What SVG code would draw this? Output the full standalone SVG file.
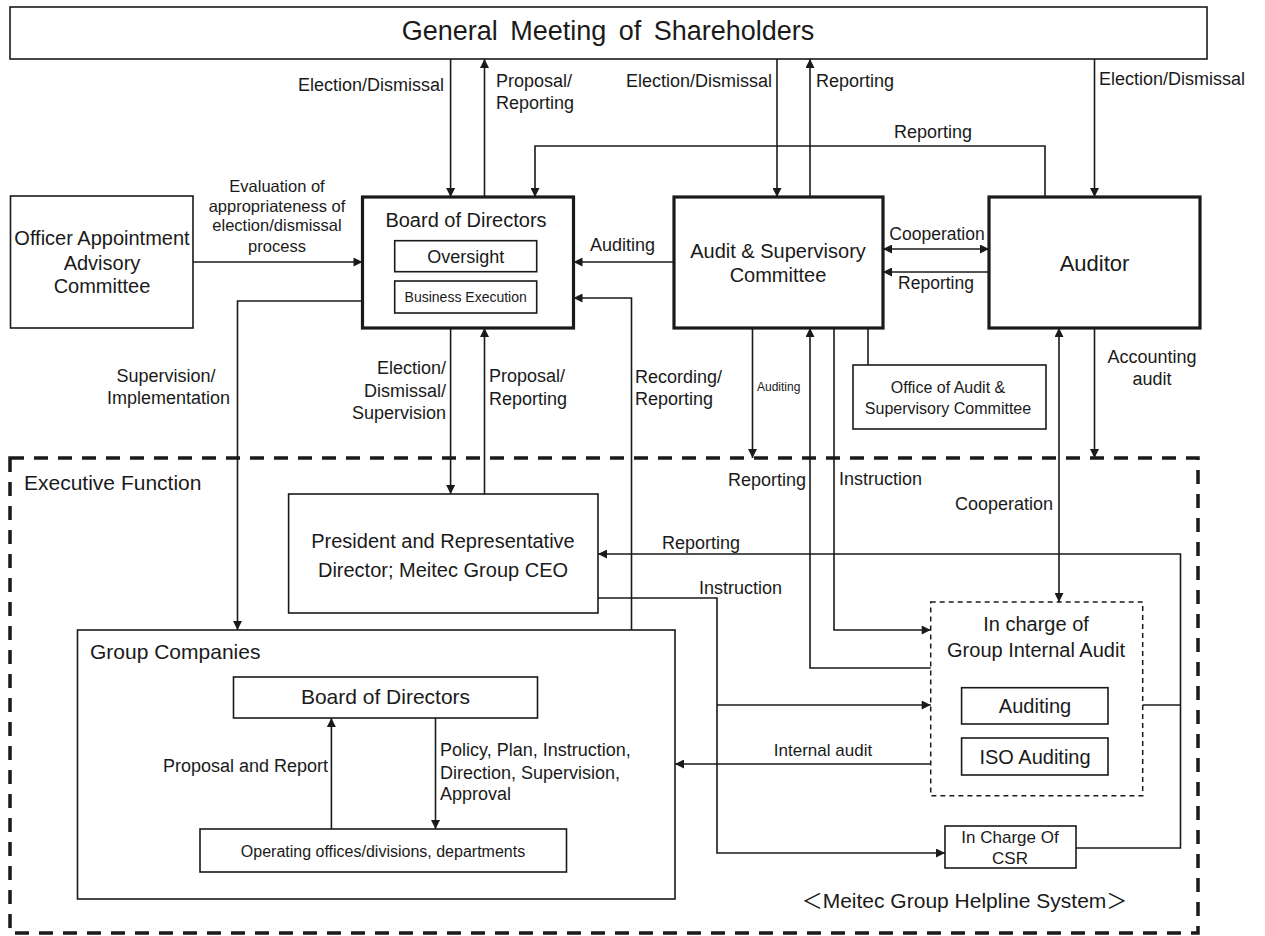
<svg xmlns="http://www.w3.org/2000/svg" width="1265" height="936" viewBox="0 0 1265 936">
<style>
text{font-family:"Liberation Sans",Arial,"Noto Sans CJK JP",sans-serif;fill:#1a1a1a}
.b{fill:#fff;stroke:#1a1a1a;stroke-width:1.6}
.tk{fill:#fff;stroke:#1a1a1a;stroke-width:3.2}
.dsh{fill:none;stroke:#1a1a1a;stroke-width:3.5;stroke-dasharray:14 10}
.dth{fill:none;stroke:#1a1a1a;stroke-width:1.5;stroke-dasharray:5 4}
.c path{fill:none;stroke:#1a1a1a;stroke-width:1.6}
.l{font-size:18px}
.m{text-anchor:middle}
.e{text-anchor:end}
</style>
<defs>
<marker id="ah" viewBox="0 0 10 10" refX="10" refY="5" markerWidth="10" markerHeight="9" markerUnits="userSpaceOnUse" orient="auto-start-reverse"><path d="M0,0 L10,5 L0,10 z" fill="#1a1a1a"/></marker>
</defs>

<g id="exec-frame">
<rect class="dsh" x="10" y="458" width="1188" height="475"/>
<text x="24" y="490" font-size="21">Executive Function</text>
</g>

<g id="gms">
<rect class="b" x="10" y="7" width="1197" height="52"/>
<text x="608" y="40" font-size="27" class="m" word-spacing="5">General Meeting of Shareholders</text>
</g>

<g id="officer">
<rect class="b" x="10.5" y="196" width="182.5" height="132"/>
<text x="102" y="245" font-size="20" class="m">Officer Appointment</text>
<text x="102" y="270" font-size="20" class="m">Advisory</text>
<text x="102" y="293" font-size="20" class="m">Committee</text>
</g>

<g id="bod">
<rect class="tk" x="362.5" y="197" width="211" height="131"/>
<text x="466" y="227" font-size="20" class="m">Board of Directors</text>
<rect class="b" x="394.7" y="240.7" width="142" height="31"/>
<text x="465.7" y="263" font-size="18" class="m">Oversight</text>
<rect class="b" x="394.7" y="281" width="142" height="32"/>
<text x="465.7" y="302" font-size="14" class="m">Business Execution</text>
</g>

<g id="asc">
<rect class="tk" x="674" y="197" width="209" height="131"/>
<text x="778" y="258" font-size="20" class="m">Audit &amp; Supervisory</text>
<text x="778" y="282" font-size="20" class="m">Committee</text>
</g>

<g id="auditor">
<rect class="tk" x="989" y="197" width="211" height="131"/>
<text x="1094.5" y="271" font-size="22" class="m">Auditor</text>
</g>

<g id="office">
<rect class="b" x="853" y="365" width="193" height="64"/>
<text x="948" y="393" font-size="16" class="m">Office of Audit &amp;</text>
<text x="948" y="414" font-size="16" class="m">Supervisory Committee</text>
</g>

<g id="president">
<rect class="b" x="288.6" y="494" width="309.4" height="119"/>
<text x="443" y="548" font-size="20" class="m">President and Representative</text>
<text x="443" y="577" font-size="20" class="m">Director; Meitec Group CEO</text>
</g>

<g id="group-companies">
<rect class="b" x="77.5" y="630" width="597.5" height="269"/>
<text x="90" y="659" font-size="21">Group Companies</text>
</g>

<g id="gc-bod">
<rect class="b" x="233.5" y="677" width="304" height="41"/>
<text x="385.5" y="704" font-size="21" class="m">Board of Directors</text>
</g>

<g id="operating">
<rect class="b" x="200" y="829" width="366.5" height="43"/>
<text x="383" y="857" font-size="16" class="m">Operating offices/divisions, departments</text>
</g>

<g id="gia">
<rect class="dth" x="930.7" y="602" width="212" height="193.7"/>
<text x="1036" y="631" font-size="20" class="m">In charge of</text>
<text x="1036" y="657" font-size="20" class="m">Group Internal Audit</text>
<rect class="b" x="961.6" y="687.7" width="146.4" height="36.3"/>
<text x="1035" y="713" font-size="20" class="m">Auditing</text>
<rect class="b" x="961.6" y="738" width="146.4" height="37"/>
<text x="1035" y="764" font-size="20" class="m">ISO Auditing</text>
</g>

<g id="csr">
<rect class="b" x="945" y="826" width="131" height="42"/>
<text x="1010" y="843" font-size="17" class="m">In Charge Of</text>
<text x="1010" y="864" font-size="17" class="m">CSR</text>
</g>

<g id="helpline">
<text x="964.5" y="908" font-size="21" class="m">＜Meitec Group Helpline System＞</text>
</g>

<g id="connectors" class="c">
<path d="M450.6,59 V197" marker-end="url(#ah)"/>
<path d="M484.5,197 V59" marker-end="url(#ah)"/>
<path d="M777,59 V197" marker-end="url(#ah)"/>
<path d="M810,197 V59" marker-end="url(#ah)"/>
<path d="M1094.5,59 V197" marker-end="url(#ah)"/>
<path d="M1045,197 V146 H535 V197" marker-end="url(#ah)"/>
<path d="M193,262 H362.5" marker-end="url(#ah)"/>
<path d="M674,262 H573.5" marker-end="url(#ah)"/>
<path d="M883,249 H989" marker-start="url(#ah)" marker-end="url(#ah)"/>
<path d="M989,272 H883" marker-end="url(#ah)"/>
<path d="M631.5,630 V298 H573.5" marker-end="url(#ah)"/>
<path d="M362.5,301 H237.5 V630" marker-end="url(#ah)"/>
<path d="M450.6,328 V494" marker-end="url(#ah)"/>
<path d="M484.5,494 V328" marker-end="url(#ah)"/>
<path d="M752.5,328 V458" marker-end="url(#ah)"/>
<path d="M930.7,668 H810 V328" marker-end="url(#ah)"/>
<path d="M834,328 V630 H930.7" marker-end="url(#ah)"/>
<path d="M868,328 V365"/>
<path d="M1059,328 V602" marker-start="url(#ah)" marker-end="url(#ah)"/>
<path d="M1094.5,328 V458" marker-end="url(#ah)"/>
<path d="M1076,848 H1180.5 V554 H598" marker-end="url(#ah)"/>
<path d="M1142.7,705 H1180.5"/>
<path d="M598,598 H717 V853 H945" marker-end="url(#ah)"/>
<path d="M717,705 H930.7" marker-end="url(#ah)"/>
<path d="M930.7,764 H675" marker-end="url(#ah)"/>
<path d="M331.4,829 V718" marker-end="url(#ah)"/>
<path d="M435.5,718 V829" marker-end="url(#ah)"/>
</g>

<g id="labels" class="l">
<text x="444" y="91" class="e">Election/Dismissal</text>
<text x="496" y="87">Proposal/</text>
<text x="496" y="109">Reporting</text>
<text x="772" y="87" class="e">Election/Dismissal</text>
<text x="816" y="87">Reporting</text>
<text x="1099" y="85">Election/Dismissal</text>
<text x="933" y="138" class="m">Reporting</text>
<text x="277" y="192" font-size="16.5" class="m">Evaluation of</text>
<text x="277" y="212" font-size="16.5" class="m">appropriateness of</text>
<text x="277" y="231" font-size="16.5" class="m">election/dismissal</text>
<text x="277" y="252" font-size="16.5" class="m">process</text>
<text x="590" y="251">Auditing</text>
<text x="937" y="240" font-size="17.5" class="m">Cooperation</text>
<text x="936" y="289" font-size="17.5" class="m">Reporting</text>
<text x="166" y="382" class="m">Supervision/</text>
<text x="168.6" y="404" class="m">Implementation</text>
<text x="446" y="374" class="e">Election/</text>
<text x="446" y="397" class="e">Dismissal/</text>
<text x="446" y="419" class="e">Supervision</text>
<text x="489" y="382">Proposal/</text>
<text x="489" y="405">Reporting</text>
<text x="635" y="383">Recording/</text>
<text x="635" y="405">Reporting</text>
<text x="757" y="391" font-size="12">Auditing</text>
<text x="1152" y="363" class="m">Accounting</text>
<text x="1152" y="385" class="m">audit</text>
<text x="806" y="486" class="e">Reporting</text>
<text x="839" y="485">Instruction</text>
<text x="1053" y="510" class="e">Cooperation</text>
<text x="701" y="549" class="m">Reporting</text>
<text x="740.6" y="594" class="m">Instruction</text>
<text x="823" y="756" font-size="17" class="m">Internal audit</text>
<text x="328" y="772" class="e">Proposal and Report</text>
<text x="440" y="756">Policy, Plan, Instruction,</text>
<text x="440" y="779">Direction, Supervision,</text>
<text x="440" y="800">Approval</text>
</g>
</svg>
